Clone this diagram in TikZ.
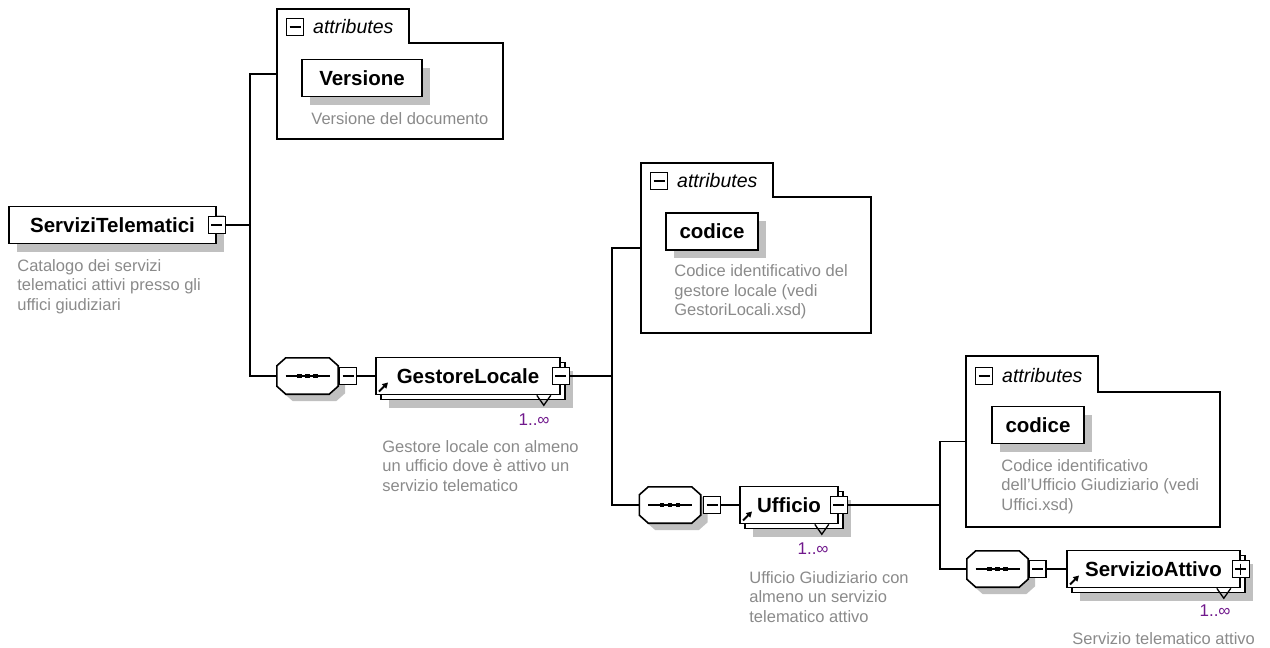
\documentclass[tikz,border=0pt]{standalone}
\usepackage{fontspec}
\setmainfont{Liberation Sans}
\usetikzlibrary{shadows, arrows.meta}

\definecolor{descgray}{RGB}{138,138,138}
\definecolor{multpurple}{RGB}{112,24,140}
\definecolor{shadegray}{RGB}{192,192,192}

\tikzstyle{elembase} = [rectangle, draw=black, fill=white, line width=1.6pt, inner sep=0pt, minimum height=37pt, text centered, font=\fontsize{20.5}{24}\selectfont\bfseries]
\tikzstyle{element} = [elembase, drop shadow={shadow xshift=8pt, shadow yshift=-8pt, fill=shadegray, opacity=1}]
\tikzstyle{refelement} = [elembase, drop shadow={shadow xshift=13pt, shadow yshift=-13pt, fill=shadegray, opacity=1}, copy shadow={shadow xshift=5pt, shadow yshift=-5pt, draw=black, fill=white, opacity=1}, path picture={\draw[line width=1.8pt, -{Triangle[length=5.5pt, width=6pt]}] ([shift={(3pt,3pt)}]path picture bounding box.south west) -- ++(9pt,9pt);}]
\tikzstyle{minusbox} = [rectangle, draw=black, fill=white, line width=1.3pt, minimum width=17pt, minimum height=17pt, inner sep=0pt, path picture={\draw[line width=1.3pt] ([xshift=3pt]path picture bounding box.west) -- ([xshift=-3pt]path picture bounding box.east);}]
\tikzstyle{plusbox} = [minusbox, path picture={\draw[line width=1.3pt] ([xshift=3pt]path picture bounding box.west) -- ([xshift=-3pt]path picture bounding box.east) ([yshift=-3pt]path picture bounding box.north) -- ([yshift=3pt]path picture bounding box.south);}]
\tikzstyle{seqarea} = [rectangle, minimum width=61pt, minimum height=36pt, inner sep=0pt]
\tikzstyle{seqframe} = [draw=black, fill=white, line width=1.6pt]
\tikzstyle{seqline} = [draw=black, line width=1.5pt]
\tikzstyle{attrarea} = [rectangle, inner sep=0pt]
\tikzstyle{attrframe} = [draw=black, line width=1.6pt]
\tikzstyle{attrlabel} = [inner sep=0pt, font=\fontsize{19.5}{22}\selectfont\itshape]
\tikzstyle{desc} = [inner sep=0pt, align=left, text=descgray, font=\fontsize{16.5}{19.4}\selectfont]
\tikzstyle{mult} = [inner sep=0pt, text=multpurple, font=\fontsize{17}{20}\selectfont]
\tikzstyle{connector} = [draw=black, line width=1.6pt]
\tikzstyle{marker} = [draw=black, line width=1.3pt]

% octagon of a sequence compositor, drawn round a seqarea node
\newcommand{\seqoutline}[1]{([xshift=9pt]#1.north west) -- ([xshift=-9pt]#1.north east) -- ([yshift=-8pt]#1.north east) -- ([yshift=8pt]#1.south east) -- ([xshift=-9pt]#1.south east) -- ([xshift=9pt]#1.south west) -- ([yshift=8pt]#1.south west) -- ([yshift=-8pt]#1.north west) -- cycle}
\newcommand{\seqshape}[1]{%
  \fill [shadegray, transform canvas={shift={(7pt,-7pt)}}] \seqoutline{#1};
  \draw [seqframe] \seqoutline{#1};
  \draw [seqline] ([xshift=-22pt]#1.center) -- ([xshift=22pt]#1.center);
  \foreach \d in {-8,0,8} \fill [black] ([xshift=\d pt]#1.center) +(-2.4pt,-2.4pt) rectangle +(2.4pt,2.4pt);
}

\begin{document}
\begin{tikzpicture}[x=1pt, y=-1pt]
\useasboundingbox (0,0) rectangle (1270,648);

% Root element
\node (ST) [element, minimum width=207pt] at (112.5,225) {ServiziTelematici};
\node (STc) [minusbox] at (ST.east) {};
\node (STd) [desc, anchor=north west] at ([shift={(9pt,-15pt)}]ST.south west) {Catalogo dei servizi\\telematici attivi presso gli\\uffici giudiziari};

% Attributes of the root
\node (A1) [attrarea, minimum width=226pt, minimum height=130pt] at (390,74) {};
\draw [attrframe] (A1.north west) -| ([shift={(132pt,-34pt)}]A1.north west) -| (A1.south east) -- (A1.south west) -- cycle;
\node (A1c) [minusbox] at (295,27) {};
\node (A1t) [attrlabel, anchor=base west] at (313,33) {attributes};
\node (VER) [element, minimum width=120pt] at (362,78) {Versione};
\node (VERd) [desc, anchor=north west] at ([shift={(10pt,-15pt)}]VER.south west) {Versione del documento};

% GestoreLocale
\node (SQ1) [seqarea] at (307.5,376) {};
\seqshape{SQ1}
\node (SQ1c) [minusbox] at (348,376) {};
\node (GL) [refelement, minimum width=184pt] at (468,376) {GestoreLocale};
\node (GLc) [minusbox] at (GL.east) {};
\draw [marker] ([xshift=-24pt]GL.south east) -- ([shift={(-17pt,-10pt)}]GL.south east) -- ([xshift=-10pt]GL.south east);
\node (GLm) [mult, anchor=north east] at ([shift={(-11pt,-18pt)}]GL.south east) {1..∞};
\node (GLd) [desc, anchor=north west] at ([shift={(7pt,-45pt)}]GL.south west) {Gestore locale con almeno\\un ufficio dove è attivo un\\servizio telematico};

% Attributes of GestoreLocale
\node (A2) [attrarea, minimum width=230pt, minimum height=170pt] at (756,248) {};
\draw [attrframe] (A2.north west) -| ([shift={(132pt,-34pt)}]A2.north west) -| (A2.south east) -- (A2.south west) -- cycle;
\node (A2c) [minusbox] at (659,181) {};
\node (A2t) [attrlabel, anchor=base west] at (677,187) {attributes};
\node (COD1) [element, minimum width=92pt] at (712,231.5) {codice};
\node (COD1d) [desc, anchor=north west] at ([shift={(9pt,-14pt)}]COD1.south west) {Codice identificativo del\\gestore locale (vedi\\GestoriLocali.xsd)};

% Ufficio
\node (SQ2) [seqarea] at (670,505) {};
\seqshape{SQ2}
\node (SQ2c) [minusbox] at (712,505) {};
\node (UF) [refelement, minimum width=98pt] at (789,505) {Ufficio};
\node (UFc) [minusbox] at (UF.east) {};
\draw [marker] ([xshift=-24pt]UF.south east) -- ([shift={(-17pt,-10pt)}]UF.south east) -- ([xshift=-10pt]UF.south east);
\node (UFm) [mult, anchor=north east] at ([shift={(-10pt,-18pt)}]UF.south east) {1..∞};
\node (UFd) [desc, anchor=north west] at ([shift={(10pt,-47pt)}]UF.south west) {Ufficio Giudiziario con\\almeno un servizio\\telematico attivo};

% Attributes of Ufficio
\node (A3) [attrarea, minimum width=254pt, minimum height=171pt] at (1093,441.5) {};
\draw [attrframe] (A3.north west) -| ([shift={(132pt,-36pt)}]A3.north west) -| (A3.south east) -- (A3.south west) -- cycle;
\node (A3c) [minusbox] at (984,376) {};
\node (A3t) [attrlabel, anchor=base west] at (1002,382) {attributes};
\node (COD2) [element, minimum width=92pt] at (1038,425) {codice};
\node (COD2d) [desc, anchor=north west] at ([shift={(10pt,-15pt)}]COD2.south west) {Codice identificativo\\dell'Ufficio Giudiziario (vedi\\Uffici.xsd)};

% ServizioAttivo
\node (SQ3) [seqarea] at (997.5,569) {};
\seqshape{SQ3}
\node (SQ3c) [minusbox] at (1037.5,569) {};
\node (SA) [refelement, minimum width=173pt] at (1153.5,569) {ServizioAttivo};
\node (SAc) [plusbox] at (SA.east) {};
\draw [marker] ([xshift=-24pt]SA.south east) -- ([shift={(-17pt,-10pt)}]SA.south east) -- ([xshift=-10pt]SA.south east);
\node (SAm) [mult, anchor=north east] at ([shift={(-10pt,-16pt)}]SA.south east) {1..∞};
\node (SAd) [desc, anchor=north west] at ([shift={(6pt,-44pt)}]SA.south west) {Servizio telematico attivo};

% Trunks
\coordinate (T1a) at (250,74);
\coordinate (T1m) at (250,225);
\coordinate (T1b) at (250,376);
\coordinate (T2a) at (612,248);
\coordinate (T2m) at (612,376);
\coordinate (T2b) at (612,505);
\coordinate (T3a) at (940,441.5);
\coordinate (T3m) at (940,505);
\coordinate (T3b) at (940,569);

% Connecting lines
\draw [connector] (STc.east) -- (T1m);
\draw [connector] (A1.west) -- (T1a) -- (T1b) -- (SQ1.west);
\draw [connector] (SQ1c.east) -- (GL.west);
\draw [connector] (GLc.east) -- (T2m);
\draw [connector] (A2.west) -- (T2a) -- (T2b) -- (SQ2.west);
\draw [connector] (SQ2c.east) -- (UF.west);
\draw [connector] (UFc.east) -- (T3m);
\draw [connector] (A3.west) -- (T3a) -- (T3b) -- (SQ3.west);
\draw [connector] (SQ3c.east) -- (SA.west);

\end{tikzpicture}
\end{document}
